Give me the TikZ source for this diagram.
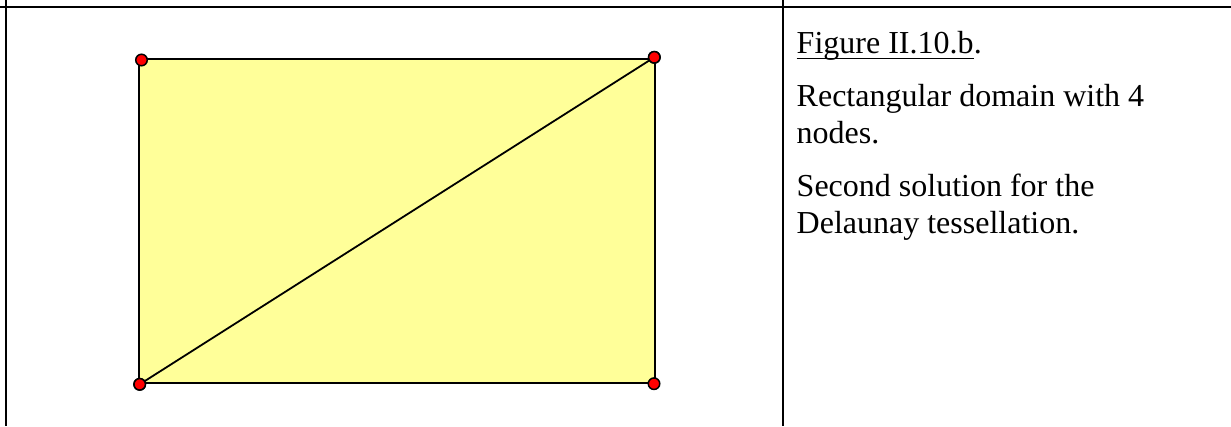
\documentclass[tikz,border=0pt]{standalone}
\usepackage{fontspec}
\setmainfont{Liberation Serif}
\definecolor{fillyel}{RGB}{255,255,153}
\definecolor{vtxred}{RGB}{255,0,0}
\begin{document}
\begin{tikzpicture}[x=1pt,y=-1pt,
  rule/.style={line width=2pt,draw=black},
  edge/.style={line width=1.8pt,draw=black},
  vtx/.style={circle,fill=vtxred,draw=black,line width=1.5pt,minimum size=11.5pt,inner sep=0pt},
  txt/.style={anchor=base west,inner sep=0pt,font=\fontsize{32}{37}\selectfont}]
\useasboundingbox (0,0) rectangle (1231,426);
% table rules
\coordinate (hl) at (0,6.7);
\coordinate (hr) at (1231,6.7);
\coordinate (lt) at (6,0);
\coordinate (lb) at (6,426);
\coordinate (mt) at (782.8,0);
\coordinate (mb) at (782.8,426);
\draw[rule] (hl) -- (hr);
\draw[rule] (lt) -- (lb);
\draw[rule] (mt) -- (mb);
% domain
\coordinate (c1) at (138.8,59.3);
\coordinate (c2) at (655,59.3);
\coordinate (c3) at (655,382.7);
\coordinate (c4) at (138.8,382.7);
\filldraw[fill=fillyel,draw=black,line width=1.7pt] (c1) -- (c2) -- (c3) -- (c4) -- cycle;
\node[vtx] (tl) at (141.5,60) {};
\node[vtx] (tr) at (654.3,57.3) {};
\node[vtx] (bl) at (139.7,384.3) {};
\node[vtx] (br) at (654,383.7) {};
\draw[edge] (bl.center) -- (tr.center);
\node[vtx] at (bl) {};
\node[vtx] at (tr) {};
% text
\node[txt] (t1) at (796.5,53) {Figure II.10.b};
\node[txt] (t1p) at (t1.base east) {.};
\draw[line width=1.8pt] ([yshift=-5.5pt]t1.base west) -- ([yshift=-5.5pt]t1.base east);
\node[txt] (t2) at (796.5,106) {Rectangular domain with 4};
\node[txt] (t3) at (796.5,143) {nodes.};
\node[txt] (t4) at (796.5,196) {Second solution for the};
\node[txt] (t5) at (796.5,233) {Delaunay tessellation.};
\end{tikzpicture}
\end{document}
